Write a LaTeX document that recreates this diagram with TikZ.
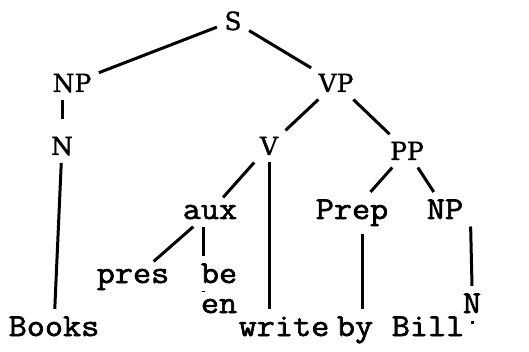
\documentclass[tikz,border=0pt]{standalone}
\usepackage{fontspec}
\newfontfamily\catfont[FakeBold=1.2]{DejaVu Serif}
\newfontfamily\wordfont[FakeBold=2,FakeStretch=1.1]{Latin Modern Mono}

\begin{document}
\begin{tikzpicture}[x=0.5pt,y=-0.5pt,-,line width=1.5pt,
                    cat node/.style={anchor=base,inner sep=3pt,font=\catfont\fontsize{12.5}{13}\selectfont},
                    word node/.style={anchor=base,inner sep=3pt,font=\wordfont\fontsize{16}{17}\selectfont}]
  \useasboundingbox (0,0) rectangle (529,352);

  \node[cat node] (s) at (233,30) {S};
  \node[cat node] (np1) at (72,92) {NP};
  \node[cat node] (vp) at (336,92) {VP};
  \node[cat node] (n1) at (62,155) {N};
  \node[cat node] (v) at (269,155) {V};
  \node[cat node] (pp) at (407,160) {PP};

  \node[word node] (aux) at (210,219) {aux};
  \node[word node] (prep) at (352,219) {Prep};
  \node[word node] (np2) at (445,219) {NP};
  \node[word node] (pres) at (133,283) {pres};
  \node[word node] (be) at (219,283) {be};
  \node[word node] (en) at (219,313) {en};
  \node[word node] (n2) at (472,313) {N};
  \node[word node] (books) at (54,336) {Books};
  \node[word node] (write) at (284,336) {write};
  \node[word node] (by) at (355,336) {by};
  \node[word node] (bill) at (428,336) {Bill};

  \path
    (s) edge (np1)
        edge (vp)
    (vp) edge (v)
         edge (pp)
    (pp) edge (prep)
         edge (np2)
    (v) edge (aux)
    (aux) edge (pres)
    (n1) edge (books);

  \path
    (np1.south -| n1) edge[shorten >=5pt] (n1.north)
    (v) edge (v |- write.north)
    ([xshift=-8pt]be.north |- aux.south) edge ([xshift=-8pt]be.north)
    ([xshift=-8pt]be.south) edge ([xshift=-8pt]en.north)
    ([xshift=5pt]prep.south) edge ([xshift=5pt]prep.south |- by.north)
    (np2.south east) edge (n2.north)
    (n2.south) edge ([yshift=-1.5pt]n2.south);
\end{tikzpicture}
\end{document}
